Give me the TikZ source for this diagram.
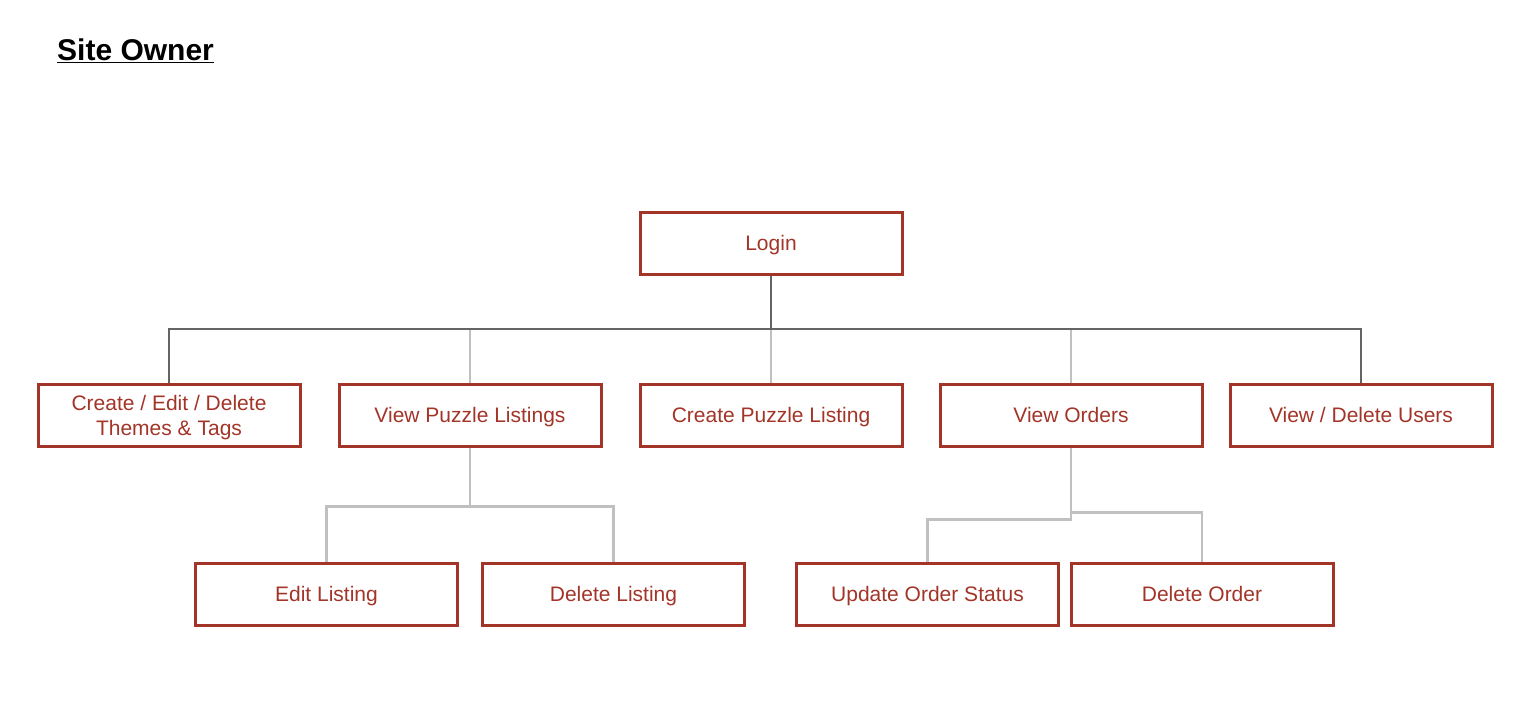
\documentclass[tikz,border=0pt]{standalone}
\usepackage{fontspec}
\setmainfont{Liberation Sans}
\definecolor{boxred}{RGB}{162,52,40}
\definecolor{darkline}{RGB}{100,100,100}
\definecolor{lightline}{RGB}{192,192,192}
\begin{document}
\begin{tikzpicture}[x=1pt,y=-1pt,
  box/.style={draw=boxred,line width=3pt,minimum width=262pt,minimum height=62pt,
    inner sep=0pt,text=boxred,align=center,font=\fontsize{21}{25}\selectfont,
    text height=17.5pt,text depth=2.5pt},
  twoline/.style={text height=42.5pt,text depth=2.5pt},
  dark/.style={draw=darkline,line width=2pt},
  light/.style={draw=lightline,line width=2.6pt}]
\useasboundingbox (0,0) rectangle (1530,714);
\node[anchor=base west,inner sep=0pt,font=\fontsize{30}{34}\selectfont\bfseries] (title) at (57,61) {\underline{Site Owner}};
\node[box] (login) at (771,243) {Login};
\node[box,twoline] (themes) at (169,415) {Create / Edit / Delete\\Themes \& Tags};
\node[box] (viewpl) at (470,415) {View Puzzle Listings};
\node[box] (createpl) at (771,415) {Create Puzzle Listing};
\node[box] (orders) at (1071,415) {View Orders};
\node[box] (users) at (1361,415) {View / Delete Users};
\node[box] (edit) at (326.5,594) {Edit Listing};
\node[box] (dell) at (613.5,594) {Delete Listing};
\node[box] (update) at (927.5,594) {Update Order Status};
\node[box] (delo) at (1202,594) {Delete Order};
\coordinate (bus) at (771,329);
% light connectors from bus
\draw[light] (viewpl.north |- bus) -- (viewpl.north);
\draw[light] (createpl.north |- bus) -- (createpl.north);
\draw[light] (orders.north |- bus) -- (orders.north);
% dark connectors
\draw[dark] (login.south) -- (bus);
\draw[dark] (themes.north) |- (bus);
\draw[dark] (users.north) |- (bus);
% second level
\draw[light] (viewpl.south) -- ++(0,59) -| (edit.north);
\draw[light] (viewpl.south) -- ++(0,59) -| (dell.north);
\draw[light] (orders.south) -- ++(0,72) -| (update.north);
\draw[light] (orders.south) -- ++(0,65) -| (delo.north);
\end{tikzpicture}
\end{document}
